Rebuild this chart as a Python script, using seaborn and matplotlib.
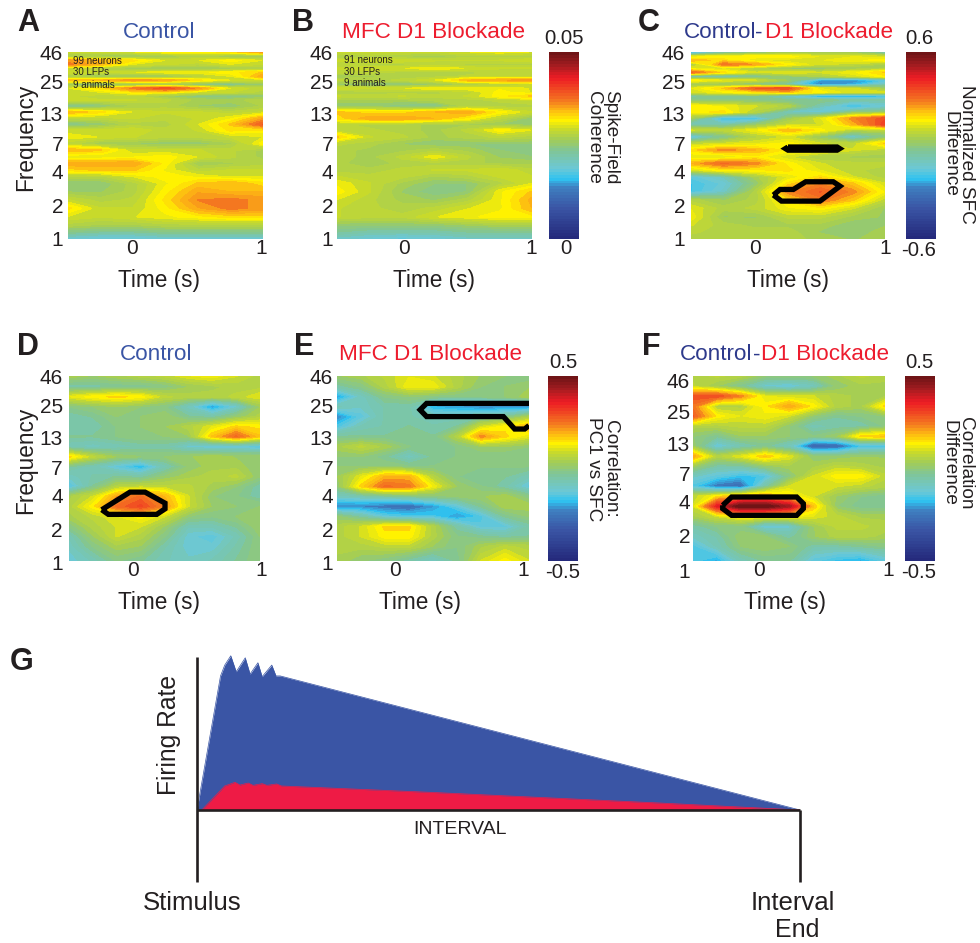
import numpy as np
import matplotlib
matplotlib.use("Agg")
import matplotlib.pyplot as plt
from matplotlib.colors import LinearSegmentedColormap, ListedColormap
from matplotlib.transforms import blended_transform_factory as blend
import seaborn as sns

# ---------------- data (heat values are percent of each panel's colour bar) ----------------
times_top = [-0.5, -0.25, 0, 0.25, 0.5, 0.75, 1]
times_low = [-0.5, -0.3125, -0.125, 0.0625, 0.25, 0.4375, 0.625, 0.8125, 1]
freq_top = [48, 43.8, 40.4, 37.2, 34.3, 31.6, 29.1, 26.9, 24.7, 22.8, 21.0, 19.4, 17.9, 15.8, 14.0, 12.3, 10.9,
            9.66, 8.43, 7.35, 6.42, 5.6, 4.89, 4.26, 3.72, 3.25, 2.74, 2.31, 1.95, 1.64, 1.38, 1.21, 1.04]
freq_low = [48, 38.6, 31.4, 25.6, 20.9, 17.0, 13.9, 11.3, 9.2, 7.5, 6.13, 5.0, 4.07, 3.32, 2.7, 2.2, 1.8, 1.46, 1.085]
freq_f = [53, 43.1, 35.2, 28.7, 23.5, 19.2, 15.6, 12.8, 10.4, 8.5, 6.96, 5.68, 4.64, 3.78, 3.09, 2.52, 2.06, 1.68, 1.25]

sfc_control = [
 [60,60,62,65,66,68,75],[52,52,50,52,55,50,50],[76,72,68,62,62,66,62],[78,72,62,60,58,62,60],
 [58,55,52,50,50,52,54],[62,60,62,64,64,66,70],[52,50,48,48,55,62,74],[70,72,76,74,68,62,60],
 [50,48,48,50,46,44,50],[62,68,78,84,76,62,58],[62,62,66,66,60,60,56],[60,58,58,52,48,46,50],
 [62,60,60,58,54,54,56],[44,48,54,56,52,50,55],[72,68,62,60,60,58,60],[58,58,60,58,60,64,74],
 [46,50,56,56,62,70,82],[60,60,62,58,60,68,66],[64,62,60,58,58,60,62],[58,52,52,50,50,54,66],
 [72,70,60,60,60,58,54],[62,62,64,66,62,58,54],[74,74,74,66,52,54,56],[68,70,70,64,58,60,60],
 [56,56,62,66,64,62,62],[50,50,56,64,70,72,68],[52,52,56,66,74,72,72],[60,56,58,68,77,78,76],
 [68,60,60,66,74,78,76],[62,60,62,64,66,68,68],[56,54,54,56,56,56,56],[48,46,46,48,48,48,48],
 [38,36,36,38,38,38,38]]
sfc_blockade = [
 [60,60,60,60,62,64,62],[54,56,54,52,56,56,56],[60,62,62,60,60,60,62],[58,56,56,58,56,56,56],
 [60,62,62,64,62,60,60],[58,58,56,56,56,58,58],[52,54,56,56,58,58,58],[58,56,58,62,72,74,76],
 [50,50,48,50,54,56,58],[62,60,62,64,64,64,62],[54,56,56,56,58,66,62],[60,58,60,58,60,66,70],
 [54,54,54,56,56,58,60],[50,50,48,46,56,56,56],[70,68,68,72,74,66,60],[68,74,74,72,66,58,50],
 [58,56,56,54,54,52,50],[58,58,56,54,58,66,62],[70,60,58,54,56,58,56],[58,56,52,50,50,50,50],
 [56,54,54,56,54,50,50],[56,54,58,64,58,52,50],[56,52,56,56,56,54,54],[56,56,58,60,60,62,58],
 [60,58,58,54,56,60,60],[64,60,54,50,50,56,62],[66,60,52,48,50,64,70],[62,58,54,52,56,64,73],
 [60,58,56,58,62,64,72],[60,58,58,62,64,66,66],[50,50,50,50,52,54,54],[46,44,44,44,46,46,46],
 [40,38,36,38,40,40,40]]
sfc_difference = [
 [25,40,46,50,52,50,40],[62,66,66,66,62,62,60],[72,68,62,60,62,64,66],[52,78,74,66,60,58,54],
 [62,60,54,50,50,52,55],[80,68,60,62,60,64,70],[40,40,44,50,55,60,66],[66,62,60,52,28,26,34],
 [52,50,46,42,26,30,42],[62,70,82,84,62,60,52],[60,64,66,70,66,60,60],[44,46,46,38,26,28,30],
 [48,48,48,46,48,44,44],[66,64,60,56,42,30,38],[66,68,56,40,38,48,50],[52,30,32,52,62,76,84],
 [42,42,50,58,60,72,86],[60,58,64,72,66,56,56],[34,46,56,60,50,38,48],[58,60,62,66,60,58,70],
 [68,76,72,66,66,60,56],[62,60,66,60,54,54,54],[72,80,76,66,60,58,58],[60,66,66,68,62,58,56],
 [36,42,54,62,68,60,56],[33,38,50,68,76,70,60],[33,40,56,76,82,76,64],[56,52,56,68,78,70,58],
 [62,56,58,64,66,60,52],[64,52,52,58,58,54,52],[60,56,54,54,54,50,52],[58,56,56,56,52,50,54],
 [56,56,56,56,54,52,54]]
corr_control = [
 [54,52,54,56,58,62,64,60,56],[44,44,46,46,48,52,54,56,56],[62,66,68,66,58,56,56,58,62],
 [48,50,52,50,48,40,28,38,52],[44,46,50,50,52,46,44,50,56],[44,44,48,50,52,56,62,68,66],
 [46,46,48,50,50,52,70,80,70],[42,40,42,44,44,38,36,36,34],[68,58,52,50,50,52,54,52,52],
 [46,42,36,30,42,50,54,54,50],[40,44,46,44,50,54,56,58,50],[34,46,56,58,58,58,54,50,44],
 [54,60,74,80,72,60,50,48,44],[56,66,80,85,76,60,52,50,50],[54,58,62,66,60,50,48,50,52],
 [48,56,60,60,52,42,42,46,52],[42,52,60,56,48,38,36,42,50],[40,48,54,52,44,38,38,44,50],
 [38,42,48,46,42,40,42,46,50]]
corr_blockade = [
 [52,54,58,62,60,56,52,50,48],[44,48,56,64,64,56,50,50,52],[28,40,48,50,48,48,48,50,54],
 [42,40,44,44,30,28,26,26,26],[26,36,44,44,42,42,44,46,54],[34,42,44,46,44,46,60,66,72],
 [46,46,46,46,46,56,76,68,62],[54,58,54,48,46,48,52,52,50],[50,50,46,40,46,48,48,48,48],
 [50,50,50,48,48,48,48,48,48],[52,62,72,72,56,48,46,46,42],[50,68,80,78,64,52,48,44,36],
 [40,42,44,46,48,50,52,54,48],[26,26,24,22,28,36,46,54,54],[50,44,36,34,34,28,34,46,50],
 [56,60,68,68,56,44,36,36,44],[56,60,66,66,56,48,46,44,46],[56,56,58,58,52,48,54,58,56],
 [54,50,48,44,40,46,60,66,60]]
corr_difference = [
 [56,58,56,50,50,50,54,58,56],[58,52,46,38,36,40,50,54,54],[84,84,76,62,60,60,56,54,54],
 [78,56,56,66,74,66,56,54,68],[82,66,62,64,60,50,46,48,50],[56,56,58,58,50,42,44,44,48],
 [50,46,52,52,50,48,52,68,70],[52,36,42,46,40,18,20,32,32],[74,56,62,70,62,50,50,52,52],
 [52,44,44,50,54,54,58,56,54],[40,36,32,34,48,60,66,66,58],[34,24,22,44,60,60,60,58,56],
 [58,66,72,74,68,60,52,48,46],[60,92,110,110,100,70,50,46,46],[54,60,66,66,66,62,58,54,54],
 [44,48,48,36,38,52,58,58,56],[40,44,52,50,44,52,56,56,54],[34,42,50,52,50,44,44,46,48],
 [34,30,42,46,46,36,32,30,36]]

# significance outlines (time s, frequency Hz)
c_sig1_t = [0.25, 0.63, 0.65, 0.63, 0.25, 0.23, 0.25]
c_sig1_f = [6.85, 6.85, 6.63, 6.42, 6.42, 6.63, 6.85]
c_sig2_t = [0.137, 0.188, 0.291, 0.387, 0.6, 0.652, 0.497, 0.2, 0.137]
c_sig2_f = [2.56, 2.87, 2.87, 3.36, 3.36, 3.07, 2.26, 2.26, 2.56]
d_sig_t = [-0.243, -0.021, 0.097, 0.254, 0.254, 0.189, -0.191, -0.243]
d_sig_f = [3.1, 4.45, 4.45, 3.55, 3.16, 2.82, 2.82, 3.1]
e_sig_t = [1.0, 0.2, 0.149, 0.2, 0.8, 0.888, 0.966, 1.0]
e_sig_f = [27.4, 27.4, 24, 20.9, 20.9, 16.2, 16.2, 17.4]
f_sig_t = [-0.268, -0.198, 0.31, 0.362, 0.362, 0.31, -0.198, -0.268, -0.268]
f_sig_f = [3.86, 4.57, 4.57, 4.0, 3.61, 3.15, 3.15, 3.61, 3.86]

# schematic firing rates (fraction of interval, relative rate)
control_t = [0, .039, .046, .056, .065, .08, .088, .101, .108, .124, .131, .138, 1]
control_rate = [0, .865, .935, .995, .892, .982, .877, .95, .86, .935, .865, .865, 0]
blockade_t = [.008, .046, .063, .071, .085, .093, .108, .116, .132, .14, .387, .768, 1]
blockade_rate = [0, .155, .179, .161, .174, .159, .17, .159, .168, .155, .114, .045, 0]

freq_ticks = [46, 25, 13, 7, 4, 2, 1]

# ---------------- style ----------------
sns.set_theme(style="white")
plt.rcParams["font.family"] = ["Liberation Sans", "DejaVu Sans"]
INK = "#231f20"
BLUE = "#3a55a5"
DARKBLUE = "#2e3a8c"
RED = "#ed1c2e"
stops = [(0, "#252a7c"), (.16, "#3a55a5"), (.27, "#3f7fc0"), (.32, "#2fc3f0"), (.375, "#6cc8d6"), (.464, "#7fc59a"),
         (.535, "#a2cc58"), (.59, "#c9da2a"), (.635, "#fff200"), (.69, "#fdb913"), (.74, "#f47b20"), (.866, "#ed1c24"),
         (.94, "#a01c20"), (1, "#701416")]
cmap = ListedColormap(LinearSegmentedColormap.from_list("sfc", stops)(np.linspace(0, 1, 64)))

W, H = 980, 943
fig = plt.figure(figsize=(W / 100, H / 100), dpi=100, facecolor="white")


def box(x0, y0, x1, y1):
    return fig.add_axes([x0 / W, 1 - y1 / H, (x1 - x0) / W, (y1 - y0) / H])


def txt(x, y, s, size=14, color=INK, ha="center", va="center", **kw):
    return fig.text(x / W, 1 - y / H, s, fontsize=size, color=color, ha=ha, va=va, **kw)


def heat(rect, times, freqs, pct, vmin, vmax, ylim, tick_right, t0, t1, xlabel_x, ylabel_y=None,
         outlines=()):
    ax = box(*rect)
    p = np.array(pct, float)
    # my colour readings ran warm above the green midpoint; bring them back onto the bar
    p = np.where(p > 50, 50 + (p - 50) * 0.85, p)
    z = vmin + p / 100 * (vmax - vmin)
    ax.set_yscale("log")
    cs = ax.contourf(times, np.array(freqs)[::-1], z[::-1], levels=np.linspace(vmin, vmax, 49),
                     cmap=cmap, vmin=vmin, vmax=vmax, extend="both")
    cs.set_edgecolor("face")
    cs.set_linewidth(0.3)
    ax.set_xlim(-0.5, 1)
    ax.set_ylim(*ylim)
    for t, f in outlines:
        ax.plot(t, f, color="black", lw=3.8, solid_joinstyle="miter", solid_capstyle="butt")
    ax.set_xticks([])
    ax.set_yticks([])
    ax.yaxis.set_minor_locator(matplotlib.ticker.NullLocator())
    sns.despine(ax=ax, left=True, bottom=True)
    h = rect[3] - rect[1]
    yt = blend(ax.transAxes, ax.transData)
    xt = blend(ax.transData, ax.transAxes)
    xpos = (tick_right - rect[0]) / (rect[2] - rect[0])
    for f in freq_ticks:
        ax.text(xpos, f, str(f), transform=yt, ha="right", va="center", fontsize=15, color=INK, clip_on=False)
    ax.text(t0, -9 / h, "0", transform=xt, ha="center", va="center", fontsize=15, color=INK, clip_on=False)
    ax.text(t1, -9 / h, "1", transform=xt, ha="center", va="center", fontsize=15, color=INK, clip_on=False)
    txt(xlabel_x, rect[3] + 42, "Time (s)", size=16.3)
    if ylabel_y is not None:
        txt(26, ylabel_y, "Frequency", size=16.3, rotation=90)
    return ax


def cbar(rect, vmin, vmax, top, bottom, top_xy, bottom_xy):
    ax = box(*rect)
    strip = np.linspace(vmax, vmin, 64).reshape(-1, 1)
    sns.heatmap(strip, ax=ax, cmap=cmap, vmin=vmin, vmax=vmax, cbar=False,
                xticklabels=False, yticklabels=False)
    txt(*top_xy, top, size=14.6)
    txt(*bottom_xy, bottom, size=14.6)


# ---------------- top row ----------------
heat((68, 52, 263, 239), times_top, freq_top, sfc_control, 0, 0.05, (1.04, 48), 63, -0.005, 0.987, 159, 137)
heat((337, 52, 532, 239), times_top, freq_top, sfc_blockade, 0, 0.05, (1.04, 48), 333, 0.013, 0.99, 434)
heat((691, 52, 885, 239), times_top, freq_top, sfc_difference, -0.6, 0.6, (1.04, 48), 685, -0.005, 1.0, 788,
     outlines=[(c_sig1_t, c_sig1_f), (c_sig2_t, c_sig2_f)])
cbar((549, 52, 579, 239), 0, 0.05, "0.05", "0", (564, 38), (566, 249))
cbar((906, 52, 936, 239), -0.6, 0.6, "0.6", "-0.6", (919, 38), (919, 250))

# ---------------- bottom row ----------------
heat((69, 376, 260, 561), times_low, freq_low, corr_control, -0.5, 0.5, (1.085, 48), 63, 0.0, 1.01, 159, 460,
     outlines=[(d_sig_t, d_sig_f)])
heat((337, 376, 529, 561), times_low, freq_low, corr_blockade, -0.5, 0.5, (1.085, 48), 333, -0.05, 0.953, 420,
     outlines=[(e_sig_t, e_sig_f)])
heat((693, 376, 885, 561), times_low, freq_f, corr_difference, -0.5, 0.5, (1.25, 53), 690, 0.018, 1.026, 785,
     outlines=[(f_sig_t, f_sig_f)])
cbar((548, 376, 578, 561), -0.5, 0.5, "0.5", "-0.5", (563, 363), (563, 573))
cbar((905, 376, 935, 561), -0.5, 0.5, "0.5", "-0.5", (919, 363), (919, 573))

# ---------------- titles, labels ----------------
txt(159, 33, "Control", size=16.2, color=BLUE)
txt(434, 33, "MFC D1 Blockade", size=16.2, color=RED)
txt(684, 33, "Control", size=16.2, color=DARKBLUE, ha="left")
txt(759, 33, "-", size=16.2, color=DARKBLUE)
txt(893, 33, "D1 Blockade", size=16.2, color=RED, ha="right")
txt(156, 355, "Control", size=16.2, color=BLUE)
txt(431, 355, "MFC D1 Blockade", size=16.2, color=RED)
txt(680, 355, "Control", size=16.2, color=DARKBLUE, ha="left")
txt(757, 355, "-", size=16.2, color=DARKBLUE)
txt(889, 355, "D1 Blockade", size=16.2, color=RED, ha="right")

for s, x, y in [("A", 17, 23), ("B", 292, 23), ("C", 638, 23), ("D", 17, 347), ("E", 294, 347), ("F", 642, 347),
                ("G", 10, 662)]:
    txt(x, y, s, size=22, ha="left", fontweight="bold")

for y, s in [(61, "99 neurons"), (72, "30 LFPs"), (85, "9 animals")]:
    txt(73, y, s, size=7, ha="left")
for y, s in [(60, "91 neurons"), (72, "30 LFPs"), (83, "9 animals")]:
    txt(344, y, s, size=7, ha="left")

txt(602, 137, "Spike-Field\nCoherence", size=13.7, rotation=270, linespacing=1.0, ma="center")
txt(958, 154, "Normalized SFC\nDifference", size=13.7, rotation=270, linespacing=1.0, ma="center")
txt(602, 469, "Correlation:\nPC1 vs SFC", size=13.7, rotation=270, linespacing=1.0, ma="center")
txt(957, 463, "Correlation\nDifference", size=13.7, rotation=270, linespacing=1.0, ma="center")

# ---------------- panel G ----------------
axg = box(197, 655, 800, 882)
axg.fill_between(control_t, control_rate, color=BLUE, lw=0)
axg.fill_between(blockade_t, blockade_rate, color="#ee1b45", lw=0)
sns.lineplot(x=control_t, y=control_rate, ax=axg, color=BLUE, lw=0.5, sort=False, errorbar=None)
sns.lineplot(x=blockade_t, y=blockade_rate, ax=axg, color="#ee1b45", lw=0.5, sort=False, errorbar=None)
axg.set_xlim(0, 1)
axg.set_ylim(-72 / 155, 1)
axg.set_xticks([])
axg.set_yticks([])
sns.despine(ax=axg, left=True, bottom=True)
axg.vlines(0, -72 / 155, 0.987, color=INK, lw=1.9, clip_on=False)
axg.hlines(0, 0, 1, color=INK, lw=1.9, clip_on=False)
axg.vlines(1, -72 / 155, 0, color=INK, lw=1.9, clip_on=False)
txt(169, 735, "Firing Rate", size=17.7, rotation=90)
txt(460, 830, "INTERVAL", size=14)
txt(192, 903, "Stimulus", size=18.5)
txt(793, 903, "Interval", size=18.5)
txt(797, 930, "End", size=18)

fig.savefig("out.png", dpi=100)
